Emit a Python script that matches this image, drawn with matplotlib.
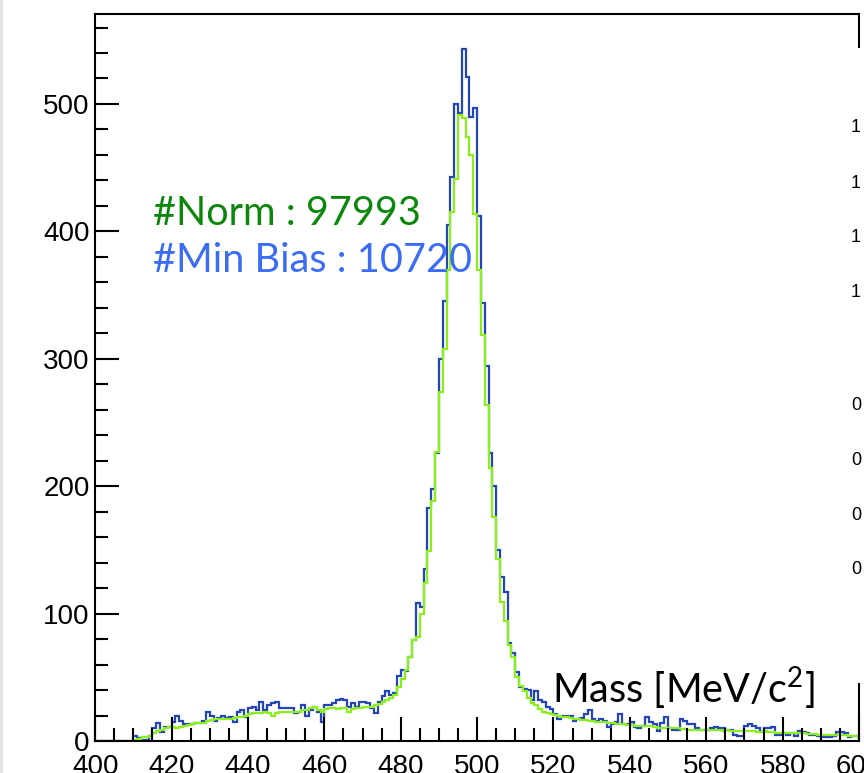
import numpy as np
import matplotlib
matplotlib.use('Agg')
import matplotlib.pyplot as plt
from matplotlib.ticker import MultipleLocator
from matplotlib.patches import Rectangle

plt.rcParams['font.family'] = ['Liberation Sans', 'DejaVu Sans']

# histogram binning: 1 MeV bins from 400 to 600
mass_lo, mass_hi = 400, 600

# Min Bias sample (blue), counts per bin, 400..599
min_bias = [
    0, 0, 0, 0, 0, 0, 0, 0, 0, 0,
    4, 2, 1, 1, 4, 10, 14, 7, 11, 11,
    15, 20, 16, 13, 13, 13, 14, 14, 16, 23,
    20, 16, 18, 20, 18, 19, 15, 23, 24, 19,
    26, 27, 24, 31, 24, 28, 30, 31, 26, 26,
    26, 26, 22, 23, 28, 20, 24, 27, 23, 15,
    28, 28, 30, 32, 33, 32, 27, 30, 27, 31,
    31, 30, 26, 22, 31, 35, 39, 36, 38, 51,
    56, 55, 66, 79, 108, 105, 135, 183, 198, 226,
    300, 345, 405, 443, 500, 493, 543, 521, 490, 497,
    412, 344, 294, 226, 200, 150, 129, 117, 77, 69,
    54, 42, 41, 40, 32, 39, 32, 31, 27, 25,
    21, 17, 20, 20, 20, 16, 17, 18, 21, 24,
    17, 16, 17, 16, 11, 13, 15, 21, 13, 13,
    15, 11, 10, 12, 19, 15, 13, 8, 14, 19,
    10, 9, 9, 17, 16, 13, 13, 10, 9, 9,
    9, 10, 11, 10, 10, 9, 9, 5, 4, 4,
    12, 13, 12, 10, 7, 10, 10, 11, 5, 5,
    6, 5, 6, 4, 8, 7, 6, 5, 5, 4,
    3, 3, 3, 4, 7, 7, 6, 3, 4, 4,
]

# Norm sample (green), scaled to the Min Bias sample, 400..599
norm = [
    0, 0, 0, 0, 0, 0, 0, 0, 0, 0,
    1, 1.5, 3, 3.5, 4, 6, 7.5, 8.5, 10, 11,
    11, 10.5, 11, 12, 12.5, 13, 14, 14, 14.5, 16,
    16.5, 17, 17, 17.5, 17, 17.5, 18, 19, 19, 20,
    21, 22, 22, 22, 23, 22, 20, 22, 23, 23,
    23, 23, 23, 23, 24, 24, 26, 27, 24, 23,
    25, 26, 26, 25, 26, 26, 23, 25, 26, 26,
    27, 27, 27, 28, 29, 31, 32, 34, 36, 42,
    49, 56, 66, 79, 82, 100, 124, 149, 188, 227,
    274, 308, 370, 415, 441, 491, 489, 474, 460, 414,
    370, 319, 264, 214, 176, 143, 109, 94, 75, 66,
    50, 43, 39, 34, 30, 28, 25, 23, 22, 21.5,
    20.5, 20, 19, 18.5, 18, 17.5, 17, 16.5, 16.5, 16,
    15.5, 15, 15, 15, 14, 14, 13.5, 13, 13, 12.5,
    12.5, 12, 12, 11.5, 11.5, 11.5, 11, 10.5, 10.5, 10,
    10, 10, 10, 9.5, 9.5, 9, 9, 9, 9, 8.5,
    8.5, 9, 8.5, 8.5, 8, 8.5, 8, 7.5, 7.5, 8,
    8, 7.5, 7.5, 7, 7, 7.5, 7, 7, 6.5, 6.5,
    6.5, 6, 6.5, 6, 6, 6, 5.5, 5.5, 5.5, 5,
    5, 5, 4.5, 5, 4.5, 4.5, 4.5, 4, 4, 4,
]

edges = np.linspace(mass_lo, mass_hi, len(min_bias) + 1)

W, H = 864, 773
fig = plt.figure(figsize=(W / 100, H / 100), dpi=100)
ax = fig.add_axes([95.2 / W, 1 - 741 / H, (859 - 95.2) / W, (741 - 14) / H])

ax.stairs(min_bias, edges, color='#2445b8', lw=1.6)
ax.stairs(norm, edges, color='#8aef1a', lw=1.6)

ax.set_xlim(mass_lo, mass_hi)
ax.set_ylim(0, 570.6)
ax.xaxis.set_major_locator(MultipleLocator(20))
ax.xaxis.set_minor_locator(MultipleLocator(5))
ax.yaxis.set_major_locator(MultipleLocator(100))
ax.yaxis.set_minor_locator(MultipleLocator(20))
ax.tick_params(which='both', direction='in', width=1.5, top=False, right=False,
               labelsize=20)
ax.tick_params(which='major', length=17)
ax.tick_params(which='minor', length=9.5)
ax.tick_params(axis='y', pad=4)
ax.tick_params(axis='x', pad=9.5)
for s in ax.spines.values():
    s.set_linewidth(1.5)

# texts (slide annotations)
tfont = ['Lato', 'DejaVu Sans']
fig.text(153 / W, 1 - 225 / H, '#Norm : 97993', color='#0b870b', fontsize=28.5,
         family=tfont, va='baseline')
fig.text(153 / W, 1 - 272 / H, '#Min Bias : 10720', color='#3b6cf4', fontsize=28.5,
         family=tfont, va='baseline')
fig.text(552 / W, 1 - 703 / H, 'Mass [MeV/c$^\\mathregular{2}$]', color='black',
         fontsize=28.5, family=tfont, va='baseline')

# pieces of the slide around the plot
fig.add_artist(Rectangle((0, 0), 3 / W, 1, transform=fig.transFigure,
                         facecolor='#dfe3e8', edgecolor='none', zorder=10))
fig.add_artist(Rectangle((845 / W, 1 - 683 / H), 19 / W, (683 - 48) / H,
                         transform=fig.transFigure, facecolor='white',
                         edgecolor='none', zorder=10))
for y in [128, 183, 238, 293]:
    fig.text(851 / W, 1 - y / H, '1', fontsize=13, va='center', zorder=11)
for y in [405, 460, 515, 570]:
    fig.text(851 / W, 1 - y / H, '0', fontsize=13, va='center', zorder=11)

fig.savefig('out.png', dpi=100)
